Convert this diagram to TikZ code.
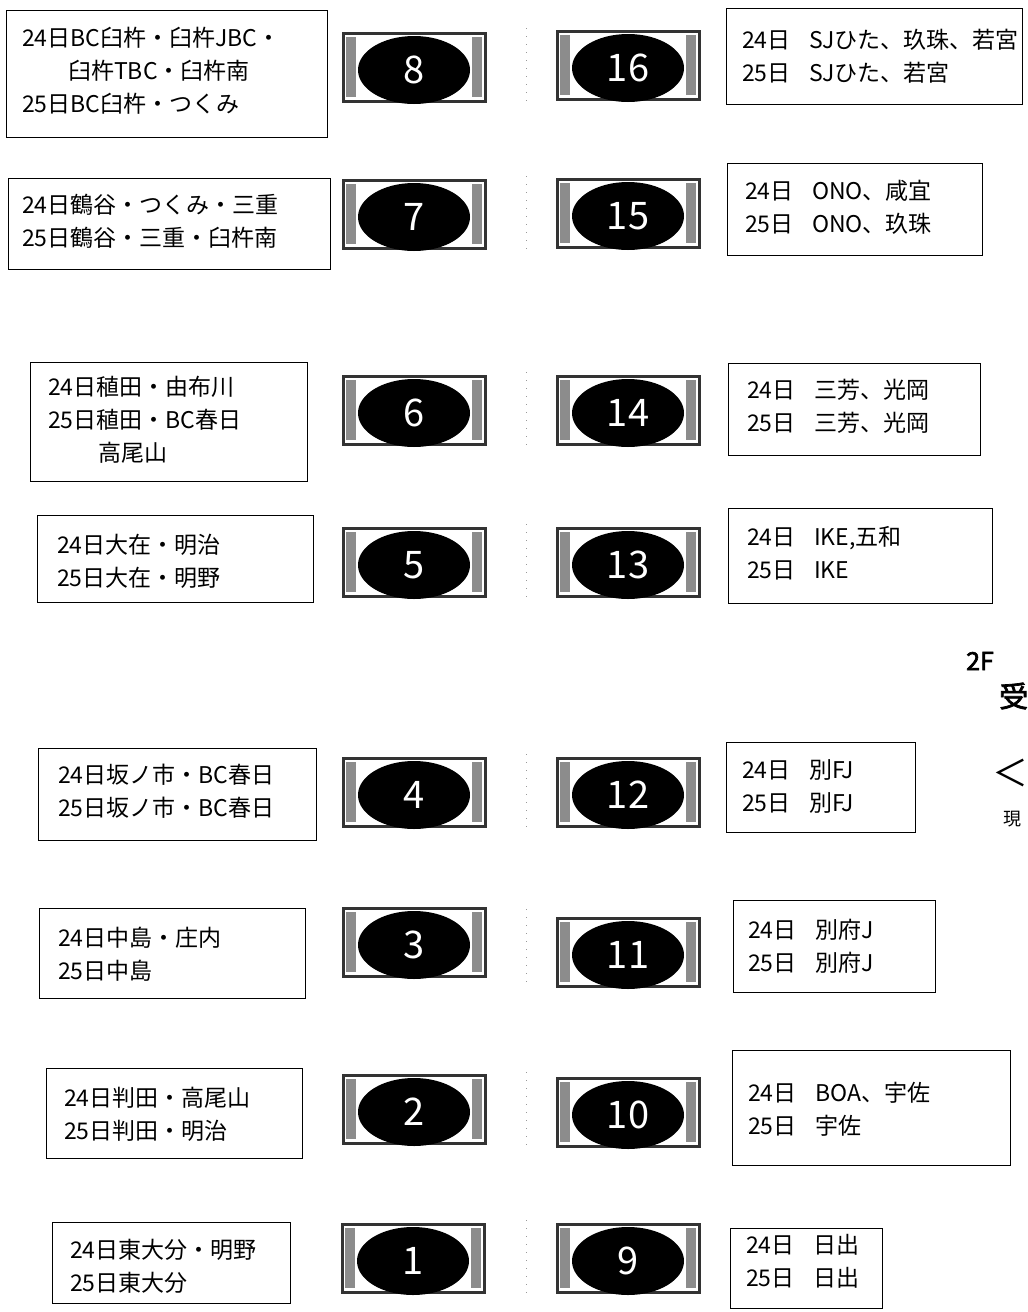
\documentclass[tikz,border=0pt]{standalone}
\usepackage{fontspec}
\setmainfont{Noto Sans CJK JP}
\newfontfamily\jpb[FakeBold=2.5]{Noto Sans CJK JP}
\usetikzlibrary{shapes.geometric}
\newcommand\gp{\hspace{0.8em}}
\begin{document}
\begin{tikzpicture}[x=1pt,y=-1pt,
  box/.style={draw=black, line width=1.1pt, inner sep=0pt, anchor=north west},
  txt/.style={anchor=west, align=left, inner sep=0pt, font=\fontsize{23}{33}\selectfont},
  tframe/.style={draw=black!80, line width=3pt, fill=white, minimum width=142pt, minimum height=68pt, inner sep=0pt},
  chair/.style={fill=black!45},
  tnum/.style={ellipse, fill=black, text=white, minimum width=112pt, minimum height=68pt, inner sep=0pt, font=\fontsize{38}{38}\selectfont},
  aisle/.style={draw=black!40, line width=1pt, dash pattern=on 1pt off 7pt},
  side/.style={inner sep=0pt, anchor=west},
]
\useasboundingbox (0,0) rectangle (1028,1312);

% text boxes: name, x1, y1, w, h, tx, ty, text
\newcommand\bx[8]{%
  \node[box, minimum width=#4pt, minimum height=#5pt] (#1) at (#2,#3) {};
  \node[txt] (#1t) at (#6,#7) {#8};
}
% tables: name, cx, cy, number
\newcommand\tb[4]{%
  \node[tframe] (#1) at (#2,#3) {};
  \fill[chair] (#2-68,#3-30) rectangle (#2-58,#3+30);
  \fill[chair] (#2+58,#3-30) rectangle (#2+68,#3+30);
  \node[tnum] (#1n) at (#2,#3+3) {#4};
}

% left column
\bx{b8}{6}{10}{321}{127}{22}{71}{24日BC臼杵・臼杵JBC・\\\hspace*{2em}臼杵TBC・臼杵南\\25日BC臼杵・つくみ}
\bx{b7}{8}{178}{322}{91}{22}{221}{24日鶴谷・つくみ・三重\\25日鶴谷・三重・臼杵南}
\bx{b6}{30}{362}{277}{119}{48}{420}{24日稙田・由布川\\25日稙田・BC春日\\\hspace*{2.2em}高尾山}
\bx{b5}{37}{515}{276}{87}{57}{561}{24日大在・明治\\25日大在・明野}
\bx{b4}{38}{748}{278}{92}{58}{791}{24日坂ノ市・BC春日\\25日坂ノ市・BC春日}
\bx{b3}{39}{908}{266}{90}{58}{954}{24日中島・庄内\\25日中島}
\bx{b2}{46}{1068}{256}{90}{64}{1114}{24日判田・高尾山\\25日判田・明治}
\bx{b1}{52}{1222}{238}{81}{70}{1266}{24日東大分・明野\\25日東大分}

% right column
\bx{b16}{726}{8}{296}{96}{742}{56}{24日\gp SJひた、玖珠、若宮\\25日\gp SJひた、若宮}
\bx{b15}{727}{163}{255}{92}{745}{207}{24日\gp ONO、咸宜\\25日\gp ONO、玖珠}
\bx{b14}{728}{363}{252}{92}{747}{406}{24日\gp 三芳、光岡\\25日\gp 三芳、光岡}
\bx{b13}{728}{508}{264}{95}{747}{553}{24日\gp IKE,五和\\25日\gp IKE}
\bx{b12}{726}{742}{189}{90}{742}{786}{24日\gp 別FJ\\25日\gp 別FJ}
\bx{b11}{733}{900}{202}{92}{748}{946}{24日\gp 別府J\\25日\gp 別府J}
\bx{b10}{732}{1050}{278}{115}{748}{1109}{24日\gp BOA、宇佐\\25日\gp 宇佐}
\bx{b9}{730}{1228}{152}{80}{746}{1261}{24日\gp 日出\\25日\gp 日出}

% tables
\tb{t8}{414}{67}{8}
\tb{t7}{414}{214}{7}
\tb{t6}{414}{410}{6}
\tb{t5}{414}{562}{5}
\tb{t4}{414}{792}{4}
\tb{t3}{414}{942}{3}
\tb{t2}{414}{1109}{2}
\tb{t1}{413}{1258}{1}
\tb{t16}{628}{65}{16}
\tb{t15}{628}{213}{15}
\tb{t14}{628}{410}{14}
\tb{t13}{628}{562}{13}
\tb{t12}{628}{792}{12}
\tb{t11}{628}{952}{11}
\tb{t10}{628}{1112}{10}
\tb{t9}{628}{1258}{9}

% faint aisle marks
\foreach \yy in {66,214,410,562,792,947,1110,1258}
  \draw[aisle] (526,\yy-38) -- (526,\yy+38);

% right edge labels
\node[side, font=\jpb\fontsize{25}{25}\selectfont] (fl) at (966,661) {2F};
\node[side, font=\jpb\fontsize{29}{29}\selectfont] (uk) at (999,696) {受};
\node[side, font=\fontsize{36}{36}\selectfont] (lt) at (992,773) {＜};
\node[side, font=\fontsize{18}{18}\selectfont] (gn) at (1003,819) {現};
\end{tikzpicture}
\end{document}
